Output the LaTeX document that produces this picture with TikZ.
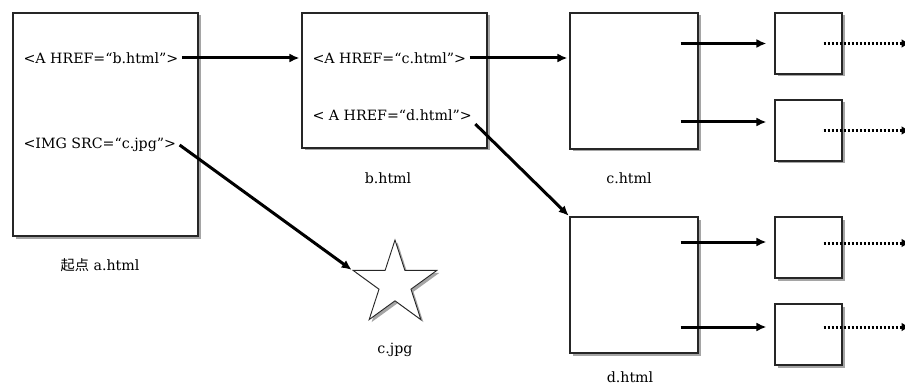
\documentclass[tikz,border=0pt]{standalone}
\usepackage{fontspec}
\setmainfont{DejaVu Serif}
\newfontfamily\cjk{Noto Sans CJK SC}
\usetikzlibrary{arrows.meta,shapes.geometric,shadows}

\begin{document}
\begin{tikzpicture}[x=1pt,y=-1pt]
\tikzstyle{every node}=[font=\fontsize{14.2}{17}\selectfont]
\tikzstyle{page}=[draw=black!85,line width=1.1pt,fill=white,inner sep=0pt,drop shadow={shadow xshift=2.5pt,shadow yshift=-2.5pt,fill=black!70}]
\tikzstyle{link}=[line width=3pt,-{Latex[length=10pt,width=9pt]}]
\tikzstyle{more}=[line width=3pt,dash pattern=on 2.2pt off 1.8pt,-{Latex[length=8pt,width=9pt]}]
\useasboundingbox (0,0) rectangle (905,385);
\node[page,minimum width=185pt,minimum height=223pt] (a) at (105.5,124.5) {};
\node[page,minimum width=185pt,minimum height=135pt] (b) at (394.5,80.5) {};
\node[page,minimum width=128pt,minimum height=136pt] (c) at (634,81) {};
\node[page,minimum width=128pt,minimum height=136pt] (d) at (634,285) {};
\node[page,minimum width=67pt,minimum height=61pt] (c1) at (808.5,43.5) {};
\node[page,minimum width=67pt,minimum height=61pt] (c2) at (808.5,130.5) {};
\node[page,minimum width=67pt,minimum height=61pt] (d1) at (808.5,247.5) {};
\node[page,minimum width=67pt,minimum height=61pt] (d2) at (808.5,334.5) {};
\node[page,star,star points=5,star point ratio=2.618,minimum size=88pt,line width=0.9pt] (img) at (395,284) {};
\node[anchor=west] (bref) at (20,58) {<A HREF=“b.html”>};
\node[anchor=west] (imgsrc) at (20,145) {<IMG SRC=“c.jpg”>};
\node[anchor=west] (cref) at (309,58) {<A HREF=“c.html”>};
\node[anchor=west] (dref) at (309,115) {< A HREF=“d.html”>};
\node (alabel) at (100,265) {{\cjk 起点} a.html};
\node (blabel) at (388,178) {b.html};
\node (clabel) at (629,178) {c.html};
\node (dlabel) at (630,377) {d.html};
\node (imglabel) at (395,350) {c.jpg};
\draw[link,shorten >=2pt] (bref.east) -- (bref.east -| b.west);
\draw[link,shorten >=24pt] (imgsrc.east) -- (img.west);
\draw[link,shorten >=2pt] (cref.east) -- (cref.east -| c.west);
\draw[link,shorten >=1pt] (dref.south east) -- (d.north west);
\draw[link,shorten >=8pt] ([xshift=-18pt]c.east |- c1) -- (c1.west);
\draw[link,shorten >=8pt] ([xshift=-18pt,yshift=8.5pt]c.east |- c2) -- ([yshift=8.5pt]c2.west);
\draw[link,shorten >=8pt] ([xshift=-18pt,yshift=5.5pt]d.east |- d1) -- ([yshift=5.5pt]d1.west);
\draw[link,shorten >=8pt] ([xshift=-18pt,yshift=7.5pt]d.east |- d2) -- ([yshift=7.5pt]d2.west);
\draw[more] ([xshift=-19pt]c1.east) -- ([xshift=67pt]c1.east);
\draw[more] ([xshift=-19pt]c2.east) -- ([xshift=67pt]c2.east);
\draw[more] ([xshift=-19pt,yshift=4.5pt]d1.east) -- ([xshift=67pt,yshift=4.5pt]d1.east);
\draw[more] ([xshift=-19pt,yshift=7.5pt]d2.east) -- ([xshift=67pt,yshift=7.5pt]d2.east);
\end{tikzpicture}
\end{document}
